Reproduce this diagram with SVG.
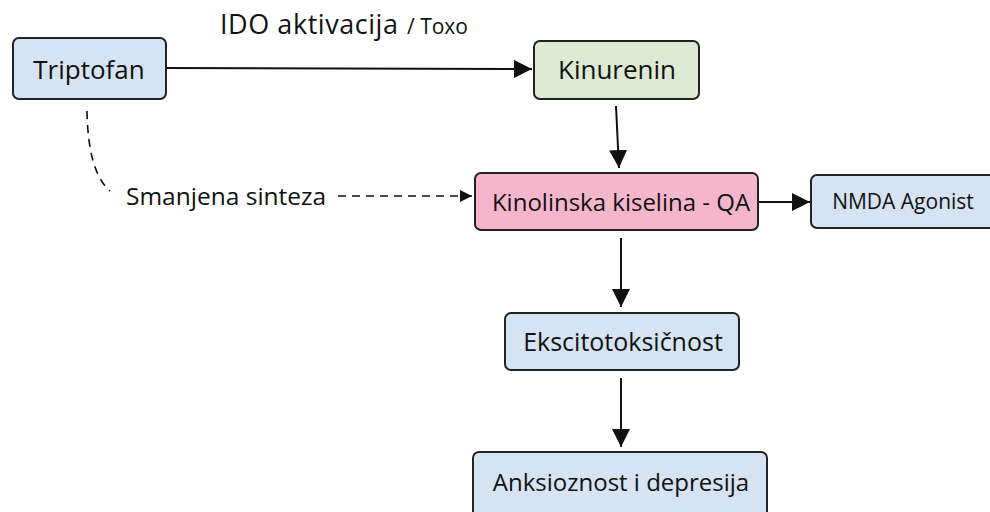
<svg xmlns="http://www.w3.org/2000/svg" width="990" height="512" viewBox="0 0 990 512">
<style>
  .box { stroke: #222; stroke-width: 2; }
  .blue { fill: #d5e3f2; }
  .green { fill: #dde9d4; }
  .pink { fill: #f5b6cb; }
  .t { font-family: "Open Sans", "Noto Sans", sans-serif; fill: #111; text-anchor: middle; dominant-baseline: central; }
  .lbl { font-family: "Open Sans", "Noto Sans", sans-serif; fill: #111; }
  .c { stroke: #111; stroke-width: 2; fill: none; }
  .d { stroke: #111; stroke-width: 1.6; fill: none; stroke-dasharray: 8 6; }
</style>
<defs>
  <marker id="ahb" viewBox="0 0 10 10" refX="10" refY="5" markerWidth="18" markerHeight="18" markerUnits="userSpaceOnUse" orient="auto">
    <path d="M0 0 L10 5 L0 10 z" fill="#111"/>
  </marker>
  <marker id="ahs" viewBox="0 0 10 10" refX="10" refY="5" markerWidth="12" markerHeight="12" markerUnits="userSpaceOnUse" orient="auto">
    <path d="M0 0 L10 5 L0 10 z" fill="#111"/>
  </marker>
</defs>
<rect width="990" height="512" fill="#ffffff"/>

<g id="connectors">
  <line class="c" x1="167" y1="68" x2="532" y2="69" marker-end="url(#ahb)"/>
  <text class="lbl" x="220" y="34" font-size="27" textLength="178" lengthAdjust="spacing">IDO aktivacija</text>
  <text class="lbl" x="407" y="34" font-size="21">/ Toxo</text>
  <line class="c" x1="616" y1="106" x2="619" y2="168" marker-end="url(#ahb)"/>
  <path class="d" d="M87 111 Q 88 172 110 191"/>
  <text class="lbl" x="126" y="195" font-size="24.5" dominant-baseline="central">Smanjena sinteza</text>
  <line class="d" x1="338" y1="196" x2="472" y2="196" marker-end="url(#ahs)"/>
  <line class="c" x1="759" y1="202" x2="810" y2="202" marker-end="url(#ahb)"/>
  <line class="c" x1="621" y1="238" x2="621" y2="307" marker-end="url(#ahb)"/>
  <line class="c" x1="621" y1="378" x2="621" y2="447" marker-end="url(#ahb)"/>
</g>

<g id="triptofan">
  <rect class="box blue" x="13" y="38" width="153" height="61" rx="6"/>
  <text class="t" x="89" y="69" font-size="26">Triptofan</text>
</g>
<g id="kinurenin">
  <rect class="box green" x="534" y="41" width="165" height="58" rx="6"/>
  <text class="t" x="617" y="69" font-size="26">Kinurenin</text>
</g>
<g id="kinolinska">
  <rect class="box pink" x="475" y="173" width="283" height="57" rx="6"/>
  <text class="t" x="621" y="201" font-size="24">Kinolinska kiselina - QA</text>
</g>
<g id="nmda">
  <rect class="box blue" x="811" y="175" width="185" height="53" rx="6"/>
  <text class="t" x="903" y="201" font-size="21">NMDA Agonist</text>
</g>
<g id="ekscito">
  <rect class="box blue" x="505" y="313" width="234" height="57" rx="6"/>
  <text class="t" x="623" y="341" font-size="25">Ekscitotoksičnost</text>
</g>
<g id="anksioznost">
  <rect class="box blue" x="473" y="452" width="294" height="70" rx="6"/>
  <text class="t" x="621" y="481" font-size="24">Anksioznost i depresija</text>
</g>
</svg>
